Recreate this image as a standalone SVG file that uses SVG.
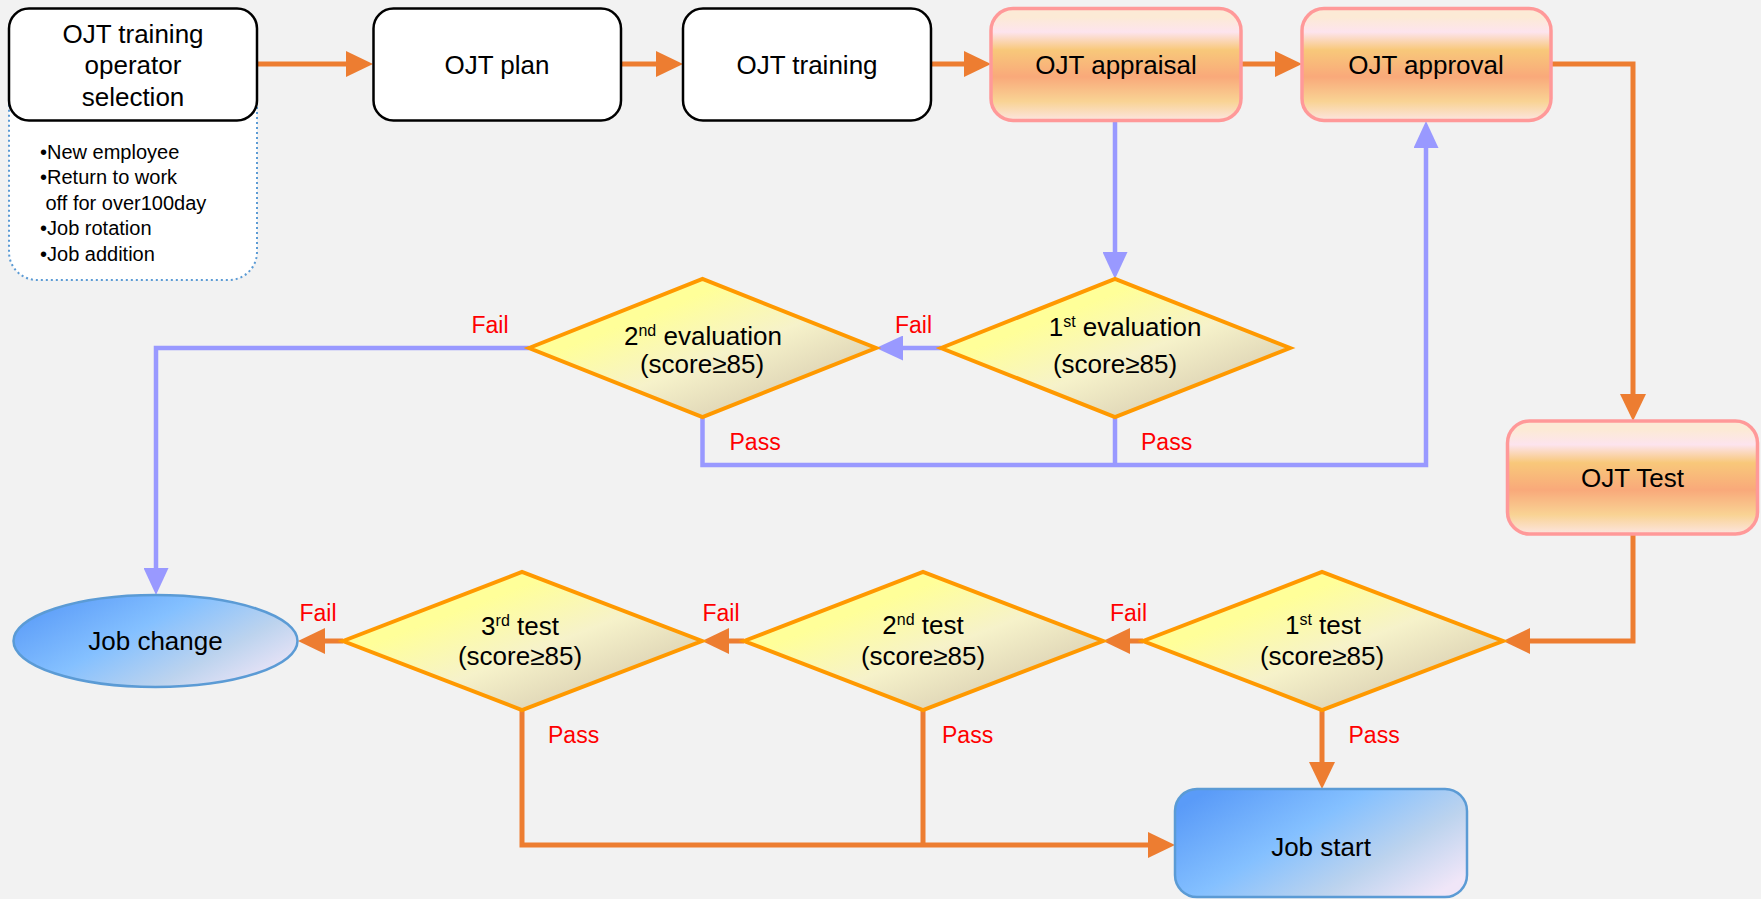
<svg xmlns="http://www.w3.org/2000/svg" width="1761" height="899" viewBox="0 0 1761 899">
<defs>
<linearGradient id="gOrange" x1="0" y1="0" x2="0" y2="1">
<stop offset="0" stop-color="#FCEAD6"/>
<stop offset="0.08" stop-color="#FCEAD6"/>
<stop offset="0.21" stop-color="#FDE4EE"/>
<stop offset="0.37" stop-color="#F8C87A"/>
<stop offset="0.61" stop-color="#F9A97A"/>
<stop offset="0.83" stop-color="#F9D394"/>
<stop offset="1" stop-color="#FCE5E0"/>
</linearGradient>
<linearGradient id="gYellow" x1="0" y1="0" x2="1" y2="1">
<stop offset="0.3" stop-color="#FFFF99"/>
<stop offset="0.55" stop-color="#F6F2CA"/>
<stop offset="0.8" stop-color="#DDD3B5"/>
</linearGradient>
<linearGradient id="gBlue" x1="0" y1="0.2" x2="1" y2="0.8">
<stop offset="0" stop-color="#5A9BF8"/>
<stop offset="0.4" stop-color="#84C0FF"/>
<stop offset="0.72" stop-color="#BCD3EE"/>
<stop offset="1" stop-color="#F0E6F8"/>
</linearGradient>
<marker id="aO" markerUnits="userSpaceOnUse" markerWidth="27" markerHeight="26" refX="0" refY="13" orient="auto">
<path d="M0,0 L27,13 L0,26 Z" fill="#ED7D31"/>
</marker>
<marker id="aB" markerUnits="userSpaceOnUse" markerWidth="27" markerHeight="25" refX="0" refY="12.5" orient="auto">
<path d="M0,0 L27,12.5 L0,25 Z" fill="#9999FF"/>
</marker>
</defs>
<style>
text{font-family:"Liberation Sans",Arial,sans-serif;fill:#000}
.t{font-size:26px;text-anchor:middle}
.b{font-size:20px}
.lbl{font-size:23px;fill:#FF0000}
.sup{font-size:16px}
.wbox{fill:#FFFFFF;stroke:#000;stroke-width:2.5}
.obox{fill:url(#gOrange);stroke:#FF9999;stroke-width:3.5}
.dia{fill:url(#gYellow);stroke:#FF9900;stroke-width:4;stroke-linejoin:miter}
.bshape{fill:url(#gBlue);stroke:#5B9BD5;stroke-width:2.5}
.co{fill:none;stroke:#ED7D31;stroke-width:5}
.cb{fill:none;stroke:#9999FF;stroke-width:4.5}
</style>
<rect width="1761" height="899" fill="#F2F2F2"/>

<g id="connectors">
<path class="co" d="M257,64 H346" marker-end="url(#aO)"/>
<path class="co" d="M621,64 H656" marker-end="url(#aO)"/>
<path class="co" d="M931,64 H964" marker-end="url(#aO)"/>
<path class="co" d="M1241,64 H1275" marker-end="url(#aO)"/>
<path class="co" d="M1551,64 H1633 V394" marker-end="url(#aO)"/>
<path class="co" d="M1633,534 V641 H1530" marker-end="url(#aO)"/>
<path class="co" d="M1143,641 H1130" marker-end="url(#aO)"/>
<path class="co" d="M744,641 H729" marker-end="url(#aO)"/>
<path class="co" d="M343,641 H325" marker-end="url(#aO)"/>
<path class="co" d="M1322,710 V762" marker-end="url(#aO)"/>
<path class="co" d="M522,710 V845 H1148" marker-end="url(#aO)"/>
<path class="co" d="M923,710 V845"/>
<path class="cb" d="M1115,121 V252" marker-end="url(#aB)"/>
<path class="cb" d="M941,348 H903" marker-end="url(#aB)"/>
<path class="cb" d="M529,348 H156 V568" marker-end="url(#aB)"/>
<path class="cb" d="M702.5,417 V465 H1426 V148" marker-end="url(#aB)"/>
<path class="cb" d="M1115,417 V465"/>
</g>

<g id="n-selection">
<rect x="9" y="60" width="248" height="220" rx="28" fill="#FFFFFF" stroke="#5B9BD5" stroke-width="2" stroke-dasharray="2 3"/>
<rect class="wbox" x="9" y="8.5" width="248" height="112" rx="20"/>
<text class="t" x="133" y="42.5">OJT training</text>
<text class="t" x="133" y="74">operator</text>
<text class="t" x="133" y="105.5">selection</text>
<text class="b" x="40" y="159">•New employee</text>
<text class="b" x="40" y="184">•Return to work</text>
<text class="b" x="45.5" y="210">off for over100day</text>
<text class="b" x="40" y="235">•Job rotation</text>
<text class="b" x="40" y="261">•Job addition</text>
</g>

<g id="n-plan">
<rect class="wbox" x="373.5" y="8.5" width="247.5" height="112" rx="20"/>
<text class="t" x="497" y="73.5">OJT plan</text>
</g>

<g id="n-training">
<rect class="wbox" x="683" y="8.5" width="248" height="112" rx="20"/>
<text class="t" x="807" y="73.5">OJT training</text>
</g>

<g id="n-appraisal">
<rect class="obox" x="991" y="8.5" width="250" height="112" rx="22"/>
<text class="t" x="1116" y="73.5">OJT appraisal</text>
</g>

<g id="n-approval">
<rect class="obox" x="1302" y="8.5" width="249" height="112" rx="22"/>
<text class="t" x="1426" y="73.5">OJT approval</text>
</g>

<g id="n-test">
<rect class="obox" x="1507.5" y="421" width="250" height="113" rx="22"/>
<text class="t" x="1632.5" y="487">OJT Test</text>
</g>

<g id="n-eval2">
<polygon class="dia" points="529,348 702.5,279 876,348 702.5,417"/>
<text class="t" x="703" y="345">2<tspan class="sup" dy="-9">nd</tspan><tspan dy="9"> evaluation</tspan></text>
<text class="t" x="702" y="373">(score≥85)</text>
</g>

<g id="n-eval1">
<polygon class="dia" points="941,348 1115,279 1290,348 1115,417"/>
<text class="t" x="1125" y="336">1<tspan class="sup" dy="-9">st</tspan><tspan dy="9"> evaluation</tspan></text>
<text class="t" x="1115" y="373">(score≥85)</text>
</g>

<g id="n-test3">
<polygon class="dia" points="343,641 522,572 702,641 522,710"/>
<text class="t" x="520" y="635">3<tspan class="sup" dy="-9">rd</tspan><tspan dy="9"> test</tspan></text>
<text class="t" x="520" y="665">(score≥85)</text>
</g>

<g id="n-test2">
<polygon class="dia" points="744,641 923,572 1103,641 923,710"/>
<text class="t" x="923" y="634">2<tspan class="sup" dy="-9">nd</tspan><tspan dy="9"> test</tspan></text>
<text class="t" x="923" y="665">(score≥85)</text>
</g>

<g id="n-test1">
<polygon class="dia" points="1143,641 1322,572 1503,641 1322,710"/>
<text class="t" x="1323" y="634">1<tspan class="sup" dy="-9">st</tspan><tspan dy="9"> test</tspan></text>
<text class="t" x="1322" y="665">(score≥85)</text>
</g>

<g id="n-jobchange">
<ellipse class="bshape" cx="155.5" cy="641" rx="142" ry="46"/>
<text class="t" x="155.5" y="650">Job change</text>
</g>

<g id="n-jobstart">
<rect class="bshape" x="1175" y="789" width="292" height="108" rx="22"/>
<text class="t" x="1321" y="856">Job start</text>
</g>

<g id="labels">
<text class="lbl" x="471.5" y="333">Fail</text>
<text class="lbl" x="895" y="333">Fail</text>
<text class="lbl" x="729.5" y="450">Pass</text>
<text class="lbl" x="1141" y="450">Pass</text>
<text class="lbl" x="299.5" y="621">Fail</text>
<text class="lbl" x="702.5" y="621">Fail</text>
<text class="lbl" x="1110" y="621">Fail</text>
<text class="lbl" x="548" y="743">Pass</text>
<text class="lbl" x="942" y="743">Pass</text>
<text class="lbl" x="1348.5" y="743">Pass</text>
</g>
</svg>
